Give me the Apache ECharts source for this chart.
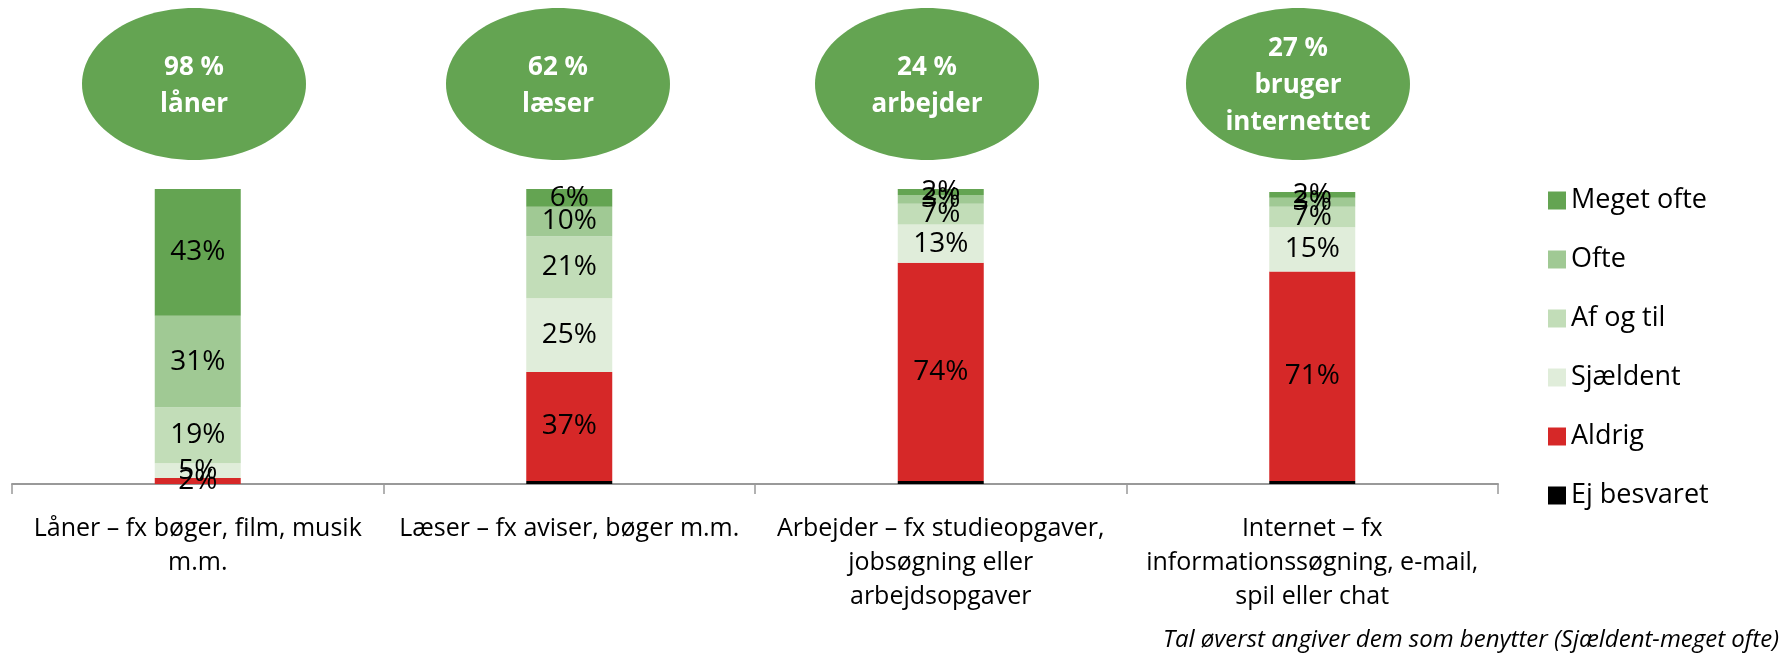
<!DOCTYPE html>
<html>
<head>
  <meta charset="utf-8">
  <script src="https://cdn.jsdelivr.net/npm/echarts@6/dist/echarts.min.js"></script>
  <style>
    html, body { margin: 0; padding: 0; background: #fff; }
    #chart { width: 1785px; height: 653px; }
  </style>
</head>
<body>
  <div id="chart"></div>
  <script>
    // data
    var categories = [
      'Låner – fx bøger, film, musik\nm.m.',
      'Læser – fx aviser, bøger m.m.',
      'Arbejder – fx studieopgaver,\njobsøgning eller\narbejdsopgaver',
      'Internet – fx\ninformationssøgning, e-mail,\nspil eller chat'
    ];
    var ejBesvaret = [0, 1, 1, 1];
    var aldrig = [2, 37, 74, 71];
    var sjaeldent = [5, 25, 13, 15];
    var afOgTil = [19, 21, 7, 7];
    var ofte = [31, 10, 3, 3];
    var megetOfte = [43, 6, 2, 2];
    var usage = [98, 62, 24, 27];
    var usageText = ['låner', 'læser', 'arbejder', 'bruger\ninternettet'];
    var note = 'Tal øverst angiver dem som benytter (Sjældent-meget ofte)';

    var font = '"Open Sans", "DejaVu Sans", sans-serif';
    var chart = echarts.init(document.getElementById('chart'));

    function bar(name, data, color, showLabel) {
      return {
        name: name,
        type: 'bar',
        stack: 'total',
        barWidth: 86,
        data: data,
        itemStyle: { color: color },
        label: {
          show: showLabel,
          position: 'inside',
          formatter: '{c}%',
          color: '#000',
          fontFamily: font,
          fontSize: 28
        }
      };
    }

    // ovals on top, one per category
    var ovalX = [194, 558, 927, 1298];
    var ovals = [];
    usage.forEach(function (u, i) {
      ovals.push({
        type: 'ellipse',
        shape: { cx: ovalX[i], cy: 84, rx: 112, ry: 76 },
        style: { fill: '#64a452' }
      });
      ovals.push({
        type: 'text',
        x: ovalX[i],
        y: 86,
        style: {
          text: u + ' %\n' + usageText[i],
          fill: '#fff',
          fontFamily: font,
          fontWeight: 'bold',
          fontSize: 26,
          lineHeight: 37,
          align: 'center',
          verticalAlign: 'middle'
        }
      });
    });
    ovals.push({
      type: 'text',
      right: 6,
      top: 628,
      style: {
        text: note,
        fill: '#000',
        fontFamily: font,
        fontStyle: 'italic',
        fontSize: 24
      }
    });

    var option = {
      animation: false,
      grid: { left: 12, right: 287, top: 189, bottom: 169 },
      legend: {
        orient: 'vertical',
        left: 1543,
        top: 180,
        itemWidth: 18,
        itemHeight: 18,
        itemGap: 28,
        icon: 'rect',
        data: ['Meget ofte', 'Ofte', 'Af og til', 'Sjældent', 'Aldrig', 'Ej besvaret'],
        textStyle: { color: '#000', fontFamily: font, fontSize: 27, lineHeight: 31 }
      },
      xAxis: {
        type: 'category',
        data: categories,
        axisLine: { lineStyle: { color: '#999', width: 2 } },
        axisTick: { show: true, alignWithLabel: false, length: 10, lineStyle: { color: '#999', width: 1.5 } },
        axisLabel: {
          interval: 0,
          margin: 28,
          color: '#000',
          fontFamily: font,
          fontSize: 25,
          lineHeight: 34
        }
      },
      yAxis: { type: 'value', min: 0, max: 100, show: false },
      series: [
        bar('Ej besvaret', ejBesvaret, '#000000', false),
        bar('Aldrig', aldrig, '#d62828', true),
        bar('Sjældent', sjaeldent, '#e0edda', true),
        bar('Af og til', afOgTil, '#c2ddb8', true),
        bar('Ofte', ofte, '#a0c994', true),
        bar('Meget ofte', megetOfte, '#64a452', true)
      ],
      graphic: ovals
    };

    chart.setOption(option);
  </script>
</body>
</html>
